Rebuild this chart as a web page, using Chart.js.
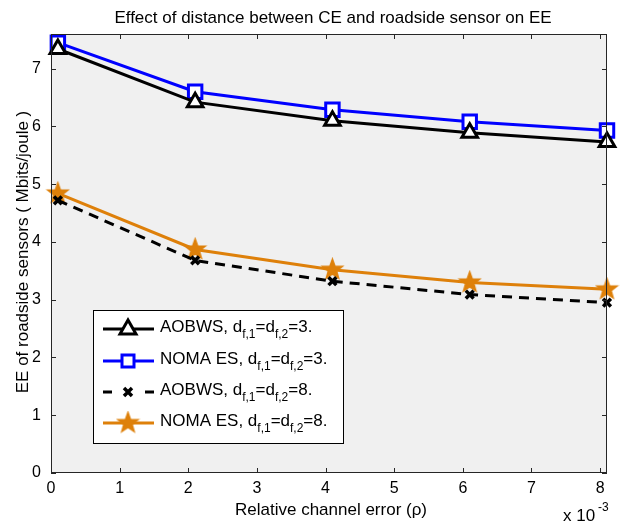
<!DOCTYPE html>
<html>
<head>
<meta charset="utf-8">
<script src="https://cdn.jsdelivr.net/npm/chart.js@4/dist/chart.umd.min.js"></script>
<style>
  html, body { margin: 0; padding: 0; background: #fff; }
  #wrap { width: 621px; height: 523px; }
</style>
</head>
<body>
<div id="wrap"><canvas id="eeChart" width="621" height="523"></canvas></div>
<script>
// values (x in units of 10^-3)
const xValues = [0.1, 2.1, 4.1, 6.1, 8.1];
const aobws3 = [7.34, 6.42, 6.10, 5.89, 5.73];
const noma3 = [7.45, 6.60, 6.29, 6.08, 5.93];
const aobws8 = [4.72, 3.68, 3.32, 3.09, 2.95];
const noma8 = [4.84, 3.87, 3.52, 3.30, 3.18];
const xTickLabels = ['0', '1', '2', '3', '4', '5', '6', '7', '8'];
const yTickLabels = ['0', '1', '2', '3', '4', '5', '6', '7'];
const seriesNames = ['AOBWS, d', 'NOMA ES, d', 'AOBWS, d', 'NOMA ES, d'];
const seriesDist = ['3.', '3.', '8.', '8.'];

const FONT = '"Liberation Sans", Arial, sans-serif';
const ORANGE = 'rgb(222,128,10)';
const BLUE = '#0000ff';

function makeStar(outer, inner, color) {
    const size = Math.ceil(outer * 2 + 4);
    const c = document.createElement('canvas');
    c.width = size; c.height = size;
    const g = c.getContext('2d');
    g.translate(size / 2, size / 2);
    g.beginPath();
    for (let i = 0; i < 10; i++) {
        const r = i % 2 === 0 ? outer : inner;
        const a = -Math.PI / 2 + i * Math.PI / 5;
        g.lineTo(r * Math.cos(a), r * Math.sin(a));
    }
    g.closePath();
    g.fillStyle = color;
    g.fill();
    g.lineWidth = 1.5;
    g.strokeStyle = color;
    g.stroke();
    return c;
}
const starImg = makeStar(10.5, 4.3, ORANGE);

function toPoints(ys) {
    return xValues.map((x, i) => ({ x: x, y: ys[i] }));
}

// matlab style frame + inward ticks + titles
const framePlugin = {
    id: 'frame',
    beforeDraw(chart) {
        const { ctx, chartArea: a } = chart;
        ctx.save();
        ctx.fillStyle = '#f0f0f0';
        ctx.fillRect(a.left, a.top, a.right - a.left, a.bottom - a.top);
        ctx.restore();
    },
    afterDraw(chart) {
        const { ctx, chartArea: a, scales } = chart;
        ctx.save();
        ctx.strokeStyle = '#262626';
        ctx.lineWidth = 1;
        ctx.strokeRect(a.left + 0.5, a.top + 0.5, a.right - a.left - 1, a.bottom - a.top - 1);
        ctx.beginPath();
        scales.x.ticks.forEach(t => {
            const px = Math.round(scales.x.getPixelForValue(t.value)) + 0.5;
            ctx.moveTo(px, a.bottom); ctx.lineTo(px, a.bottom - 5);
            ctx.moveTo(px, a.top); ctx.lineTo(px, a.top + 5);
        });
        scales.y.ticks.forEach(t => {
            const py = Math.round(scales.y.getPixelForValue(t.value)) + 0.5;
            ctx.moveTo(a.left, py); ctx.lineTo(a.left + 5, py);
            ctx.moveTo(a.right, py); ctx.lineTo(a.right - 5, py);
        });
        ctx.stroke();

        ctx.fillStyle = '#000';
        ctx.textAlign = 'center';
        ctx.textBaseline = 'middle';
        ctx.font = '17px ' + FONT;
        ctx.fillText('Effect of distance between CE and roadside sensor on EE', 333, 18);
        ctx.fillText('Relative channel error (\u03c1)', 331, 510);
        ctx.textAlign = 'left';
        ctx.fillText('x 10', 563, 516);
        ctx.font = '12px ' + FONT;
        ctx.fillText('-3', 598, 508);

        ctx.translate(23, 252);
        ctx.rotate(-Math.PI / 2);
        ctx.textAlign = 'center';
        ctx.font = '17px ' + FONT;
        ctx.fillText('EE of roadside sensors ( Mbits/joule )', 0, 0);
        ctx.restore();
    }
};

function drawMarker(ctx, kind, x, y) {
    ctx.save();
    if (kind === 0) {
        ctx.beginPath();
        ctx.moveTo(x, y - 9); ctx.lineTo(x + 8, y + 5); ctx.lineTo(x - 8, y + 5);
        ctx.closePath();
        ctx.fillStyle = '#fff'; ctx.fill();
        ctx.lineWidth = 3; ctx.strokeStyle = '#000'; ctx.stroke();
    } else if (kind === 1) {
        ctx.fillStyle = '#fff';
        ctx.fillRect(x - 6, y - 6, 12, 12);
        ctx.lineWidth = 3; ctx.strokeStyle = BLUE;
        ctx.strokeRect(x - 6, y - 6, 12, 12);
    } else if (kind === 2) {
        ctx.beginPath();
        ctx.moveTo(x - 4, y - 4); ctx.lineTo(x + 4, y + 4);
        ctx.moveTo(x + 4, y - 4); ctx.lineTo(x - 4, y + 4);
        ctx.lineWidth = 3.5; ctx.strokeStyle = '#000'; ctx.stroke();
    } else {
        ctx.drawImage(starImg, x - starImg.width / 2, y - starImg.height / 2);
    }
    ctx.restore();
}

const legendPlugin = {
    id: 'mLegend',
    afterDatasetsDraw(chart) {
        const ctx = chart.ctx;
        const colors = ['#000', BLUE, '#000', ORANGE];
        const rows = [329, 361, 392, 423];
        ctx.save();
        ctx.fillStyle = '#fff';
        ctx.fillRect(93, 310, 250, 133);
        ctx.strokeStyle = '#000';
        ctx.lineWidth = 1;
        ctx.strokeRect(93.5, 310.5, 250, 133);
        rows.forEach((y, i) => {
            ctx.beginPath();
            ctx.strokeStyle = colors[i];
            ctx.lineWidth = 3;
            if (i === 2) {
                ctx.moveTo(103, y); ctx.lineTo(112, y);
                ctx.moveTo(145, y); ctx.lineTo(154, y);
            } else {
                ctx.moveTo(103, y); ctx.lineTo(154, y);
            }
            ctx.stroke();
            drawMarker(ctx, i, 128, y);

            ctx.fillStyle = '#000';
            ctx.textBaseline = 'middle';
            ctx.textAlign = 'left';
            let x = 160;
            const big = '17px ' + FONT, small = '12px ' + FONT;
            ctx.font = big; ctx.fillText(seriesNames[i], x, y - 2);
            x += ctx.measureText(seriesNames[i]).width;
            ctx.font = small; ctx.fillText('f,1', x, y + 6);
            x += ctx.measureText('f,1').width;
            ctx.font = big; ctx.fillText('=d', x, y - 2);
            x += ctx.measureText('=d').width;
            ctx.font = small; ctx.fillText('f,2', x, y + 6);
            x += ctx.measureText('f,2').width;
            ctx.font = big; ctx.fillText('=' + seriesDist[i], x, y - 2);
        });
        ctx.restore();
    }
};

new Chart(document.getElementById('eeChart'), {
    type: 'scatter',
    data: {
        datasets: [
            {
                label: 'AOBWS 3', data: toPoints(aobws3), showLine: true,
                borderColor: '#000', borderWidth: 3,
                pointStyle: 'triangle', pointRadius: 9, pointBorderWidth: 3,
                pointBackgroundColor: '#fff', pointBorderColor: '#000', clip: false
            },
            {
                label: 'NOMA 3', data: toPoints(noma3), showLine: true,
                borderColor: BLUE, borderWidth: 3,
                pointStyle: 'rect', pointRadius: 9.5, pointBorderWidth: 3,
                pointBackgroundColor: '#fff', pointBorderColor: BLUE, clip: false
            },
            {
                label: 'AOBWS 8', data: toPoints(aobws8), showLine: true,
                borderColor: '#000', borderWidth: 3, borderDash: [10, 7],
                pointStyle: 'crossRot', pointRadius: 5.5, pointBorderWidth: 3.5,
                pointBorderColor: '#000', clip: false
            },
            {
                label: 'NOMA 8', data: toPoints(noma8), showLine: true,
                borderColor: ORANGE, borderWidth: 3,
                pointStyle: starImg, pointRadius: 11, clip: false
            }
        ]
    },
    options: {
        responsive: false,
        animation: false,
        layout: { padding: { top: 34, right: 13, left: 0, bottom: 0 } },
        plugins: { legend: { display: false }, tooltip: { enabled: false } },
        scales: {
            x: {
                type: 'linear', min: 0, max: 8.1,
                grid: { display: false }, border: { display: false },
                ticks: {
                    stepSize: 1, includeBounds: false, color: '#000', padding: -2,
                    font: { family: FONT, size: 16 },
                    callback: v => xTickLabels[v] !== undefined ? xTickLabels[v] : ''
                },
                afterFit: s => { s.height = 50; s.paddingLeft = 0; s.paddingRight = 0; }
            },
            y: {
                min: 0, max: 7.6,
                grid: { display: false }, border: { display: false },
                ticks: {
                    stepSize: 1, includeBounds: false, color: '#000', padding: 2,
                    font: { family: FONT, size: 16 },
                    callback: v => yTickLabels[v] !== undefined ? yTickLabels[v] : ''
                },
                afterFit: s => { s.width = 51; s.paddingTop = 0; s.paddingBottom = 0; }
            }
        }
    },
    plugins: [framePlugin, legendPlugin]
});
</script>
</body>
</html>
